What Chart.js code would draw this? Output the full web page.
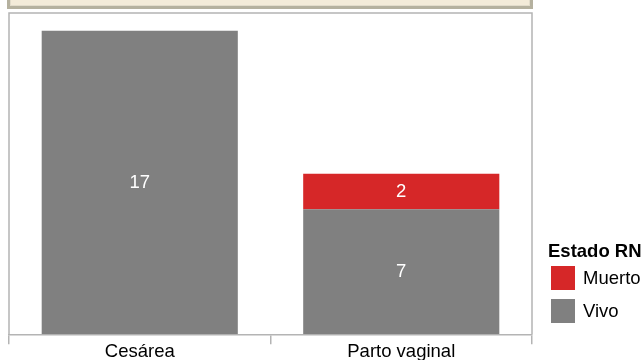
<!DOCTYPE html>
<html>
<head>
<meta charset="utf-8">
<script src="https://cdn.jsdelivr.net/npm/chart.js@4"></script>
<style>
  html, body { margin: 0; padding: 0; background: #fff; overflow: hidden; }
  #wrap { position: relative; width: 642px; height: 360px; }
  #titleBox {
    position: absolute; left: 7px; top: -22px; width: 520px; height: 25px;
    background: #f3ebd9; border: 3px solid #b5b19f;
    box-shadow: inset 0 0 0 1px #e2dccb;
  }
  canvas { position: absolute; left: 0; top: 0; }
</style>
</head>
<body>
<div id="wrap">
  <div id="titleBox"></div>
  <canvas id="chart" width="642" height="360"></canvas>
</div>
<script>
const categories = ['Cesárea', 'Parto vaginal'];
const vivo = [17, 7];
const muerto = [0, 2];
const legendTitle = 'Estado RN';

const FONT = '"Liberation Sans", Arial, sans-serif';
const FS = 18.5;

// frame around the plot area (left, top, right)
const frame = {
  id: 'frame',
  beforeDatasetsDraw(chart) {
    const { ctx, chartArea: a } = chart;
    ctx.save();
    ctx.strokeStyle = '#b4b4b4';
    ctx.lineWidth = 1.5;
    ctx.beginPath();
    ctx.moveTo(a.left, a.bottom);
    ctx.lineTo(a.left, a.top);
    ctx.lineTo(a.right, a.top);
    ctx.lineTo(a.right, a.bottom);
    ctx.stroke();
    ctx.restore();
  }
};

// white value labels centred in each segment
const valueLabels = {
  id: 'valueLabels',
  afterDatasetsDraw(chart) {
    const { ctx } = chart;
    ctx.save();
    ctx.fillStyle = '#ffffff';
    ctx.font = FS + 'px ' + FONT;
    ctx.textAlign = 'center';
    ctx.textBaseline = 'middle';
    chart.data.datasets.forEach((ds, i) => {
      chart.getDatasetMeta(i).data.forEach((bar, j) => {
        const v = ds.data[j];
        if (!v) return;
        ctx.fillText(String(v), bar.x, (bar.y + bar.base) / 2);
      });
    });
    ctx.restore();
  }
};

// legend on the right, last dataset listed first
const sideLegend = {
  id: 'sideLegend',
  afterDraw(chart) {
    const { ctx } = chart;
    ctx.save();
    ctx.fillStyle = '#000';
    ctx.font = 'bold ' + FS + 'px ' + FONT;
    ctx.textBaseline = 'alphabetic';
    ctx.fillText(legendTitle, 548, 257);
    const items = chart.data.datasets.slice().reverse();
    items.forEach((ds, k) => {
      const y = 266 + k * 33;
      ctx.fillStyle = ds.backgroundColor;
      ctx.fillRect(551, y, 24, 24);
      ctx.fillStyle = '#000';
      ctx.font = FS + 'px ' + FONT;
      ctx.textBaseline = 'middle';
      ctx.fillText(ds.label, 583, y + 13);
    });
    ctx.restore();
  }
};

new Chart(document.getElementById('chart'), {
  type: 'bar',
  data: {
    labels: categories,
    datasets: [
      { label: 'Vivo', data: vivo, backgroundColor: '#808080' },
      { label: 'Muerto', data: muerto, backgroundColor: '#d62728' }
    ]
  },
  options: {
    responsive: false,
    animation: false,
    layout: { padding: { left: 9, right: 110, top: 13, bottom: 0 } },
    plugins: { legend: { display: false }, tooltip: { enabled: false } },
    datasets: { bar: { categoryPercentage: 1, barPercentage: 0.75 } },
    scales: {
      x: {
        stacked: true,
        border: { color: '#b4b4b4', width: 1.5 },
        grid: { offset: true, drawOnChartArea: false, tickLength: 10, color: '#b4b4b4', lineWidth: 1.5 },
        ticks: { color: '#000', padding: 0, font: { family: FONT, size: FS, lineHeight: 0.85 } }
      },
      y: {
        stacked: true,
        display: false,
        min: 0,
        max: 18
      }
    }
  },
  plugins: [frame, valueLabels, sideLegend]
});
</script>
</body>
</html>
